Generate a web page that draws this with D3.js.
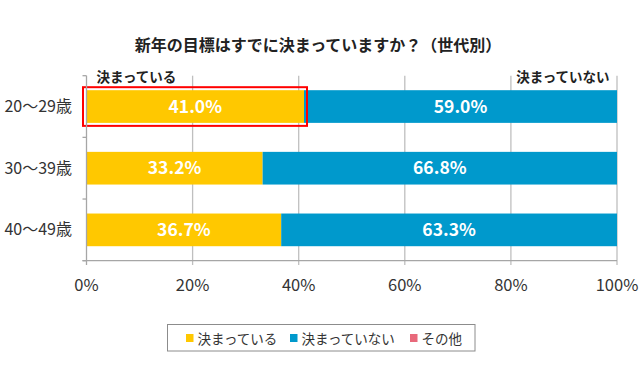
<!DOCTYPE html>
<html><head><meta charset="utf-8">
<script src="https://cdn.jsdelivr.net/npm/d3@7"></script>
<style>html,body{margin:0;padding:0;background:#fff;}svg{display:block;font-family:"Noto Sans CJK JP","Noto Sans",sans-serif;}</style>
</head><body>
<script>
const title = "新年の目標はすでに決まっていますか？（世代別）";
const categories = ["20～29歳", "30～39歳", "40～49歳"];
const seriesNames = ["決まっている", "決まっていない", "その他"];
const decided = [41.0, 33.2, 36.7];
const notDecided = [59.0, 66.8, 63.3];
const other = [0, 0, 0];
const xTicks = [0, 20, 40, 60, 80, 100];
const colors = ["#FFC800", "#0099CC", "#E8697B"];

const W = 640, H = 389;
const svg = d3.select("body").append("svg").attr("width", W).attr("height", H);

const x = d3.scaleLinear().domain([0, 100]).range([86.5, 617]);
const y = d3.scaleBand().domain(categories).range([75.7, 260.7]).paddingInner(0.47).paddingOuter(0.235);

// title
svg.append("text").attr("x", 318).attr("y", 51).attr("text-anchor", "middle")
  .attr("font-size", 16).attr("font-weight", "bold").attr("fill", "#222").text(title);

// gridlines
svg.append("g").selectAll("line").data(xTicks.slice(1)).join("line")
  .attr("x1", d => x(d)).attr("x2", d => x(d))
  .attr("y1", 75.7).attr("y2", 265)
  .attr("stroke", "#BFBFBF").attr("stroke-width", 1.3);

// stacked data
const rows = categories.map((c, i) => ({cat: c, v: [decided[i], notDecided[i], other[i]]}));
const g = svg.append("g");
rows.forEach(r => {
  let acc = 0;
  r.v.forEach((v, k) => {
    if (v > 0) {
      g.append("rect").attr("x", x(acc)).attr("y", y(r.cat))
        .attr("width", x(acc + v) - x(acc)).attr("height", y.bandwidth())
        .attr("fill", colors[k]);
      g.append("text").attr("x", x(acc + v / 2)).attr("y", y(r.cat) + y.bandwidth() / 2 + 6)
        .attr("text-anchor", "middle").attr("font-size", 17.5).attr("font-weight", "bold")
        .attr("fill", "#fff").text(v.toFixed(1) + "%");
    }
    acc += v;
  });
});

// highlight box around first decided bar
svg.append("rect").attr("x", x(0) - 3.5).attr("y", y(categories[0]) - 3)
  .attr("width", x(decided[0]) - x(0) + 6.5).attr("height", y.bandwidth() + 6)
  .attr("fill", "none").attr("stroke", "#FF0000").attr("stroke-width", 2);

// y axis
const yAxisG = svg.append("g");
yAxisG.append("line").attr("x1", x(0)).attr("x2", x(0)).attr("y1", 75.7).attr("y2", 265)
  .attr("stroke", "#A6A6A6").attr("stroke-width", 1.3);
const bounds = d3.range(categories.length + 1).map(i => 75.7 + i * y.step());
yAxisG.selectAll("line.t").data(bounds).join("line").attr("class", "t")
  .attr("x1", x(0) - 4).attr("x2", x(0)).attr("y1", d => d).attr("y2", d => d)
  .attr("stroke", "#A6A6A6").attr("stroke-width", 1.3);
// x axis line
svg.append("line").attr("x1", x(0) - 4).attr("x2", x(100)).attr("y1", 260.7).attr("y2", 260.7)
  .attr("stroke", "#A6A6A6").attr("stroke-width", 1.3);

// category labels
svg.append("g").selectAll("text").data(categories).join("text")
  .attr("x", 72).attr("y", d => y(d) + y.bandwidth() / 2 + 5.5)
  .attr("text-anchor", "end").attr("font-size", 16).attr("fill", "#333").text(d => d);

// x tick labels
svg.append("g").selectAll("text").data(xTicks).join("text")
  .attr("x", d => x(d)).attr("y", 291).attr("text-anchor", "middle")
  .attr("font-size", 16.5).attr("fill", "#333").text(d => d + "%");

// header labels
svg.append("text").attr("x", 96.5).attr("y", 81.5).attr("font-size", 13.5).attr("font-weight", "bold")
  .attr("fill", "#222").text(seriesNames[0]);
svg.append("text").attr("x", 609.5).attr("y", 81.5).attr("text-anchor", "end").attr("font-size", 13.5)
  .attr("font-weight", "bold").attr("fill", "#222").text(seriesNames[1]);

// legend
const leg = svg.append("g");
leg.append("rect").attr("x", 167.5).attr("y", 324.5).attr("width", 307.5).attr("height", 26.5)
  .attr("fill", "#fff").attr("stroke", "#8C8C8C").attr("stroke-width", 1);
const legX = [186, 290, 410];
seriesNames.forEach((n, i) => {
  leg.append("rect").attr("x", legX[i]).attr("y", 334).attr("width", 7.5).attr("height", 8).attr("fill", colors[i]);
  leg.append("text").attr("x", legX[i] + 11.5).attr("y", 343.5).attr("font-size", 13.5).attr("fill", "#333").text(n);
});
</script>
</body></html>
